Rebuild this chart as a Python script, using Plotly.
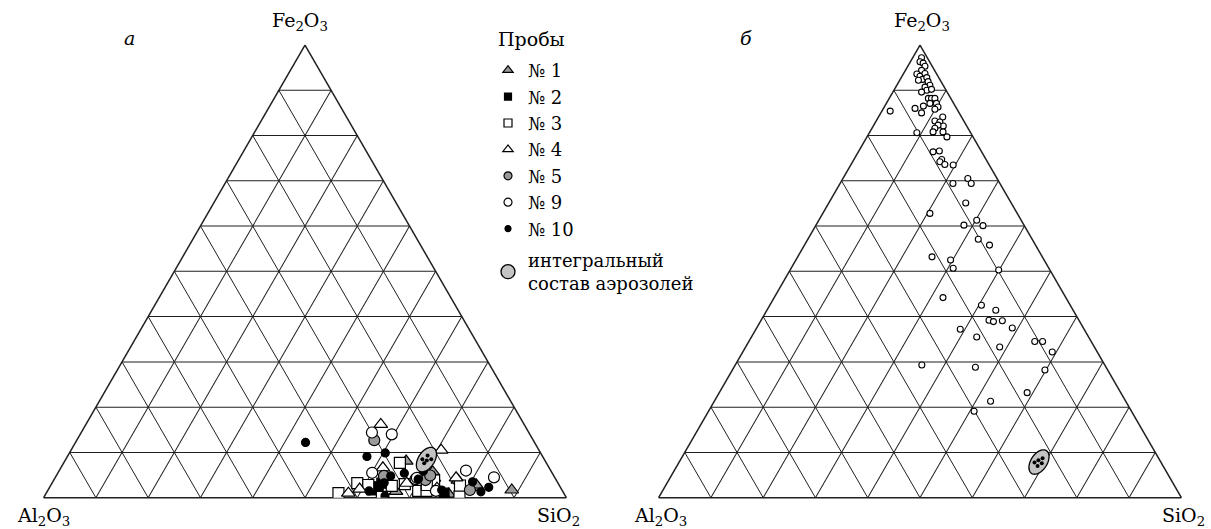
import numpy as np
import plotly.graph_objects as go

FONT = "DejaVu Serif"
W, H = 1211, 529

# ---- панель а: пробы, содержание (Fe2O3, Al2O3, SiO2), %
s1_fe = [8.1, 5.7, 3.9, 2.3, 1.7, 1.4, 0.8, 2.8, 4.3]
s1_al = [26.6, 22.7, 18.8, 15.9, 9.6, 31.9, 22.1, 15.8, 23.2]
s1_si = [65.3, 71.6, 77.3, 81.8, 88.7, 66.7, 77.1, 81.4, 72.5]

s2_fe = [2.4, 3.2, 1.0, 1.7]
s2_al = [34.8, 33.7, 22.9, 36.3]
s2_si = [62.8, 63.1, 76.1, 62.0]

s3_fe = [1.0, 3.2, 2.8, 2.6, 0.2, 7.7, 1.5, 1.5, 3.8, 2.8, 0.3, 2.7, 3.0]
s3_al = [43.1, 38.4, 36.5, 32.1, 35.2, 28.0, 27.6, 26.0, 23.4, 25.3, 20.3, 19.0, 29.4]
s3_si = [55.9, 58.4, 60.7, 65.3, 64.6, 64.3, 70.9, 72.5, 72.8, 71.9, 79.4, 78.3, 67.6]

s4_fe = [16.2, 10.5, 6.6, 1.0, 1.9, 3.2, 4.4, 2.1]
s4_al = [27.4, 18.7, 31.8, 41.2, 38.6, 29.0, 18.9, 23.7]
s4_si = [56.4, 70.8, 61.6, 57.8, 59.5, 68.0, 76.7, 74.2]

s5_fe = [12.7, 4.8, 3.9, 1.7, 4.9]
s5_al = [30.4, 32.5, 25.0, 17.6, 23.6]
s5_si = [56.9, 62.7, 71.1, 80.7, 71.5]

s9_fe = [14.4, 14.0, 5.5, 4.1, 6.0, 4.5, 1.5, 4.4]
s9_al = [30.0, 26.4, 34.4, 26.8, 16.2, 11.6, 24.2, 26.4]
s9_si = [55.6, 59.6, 60.1, 69.1, 77.8, 83.9, 74.3, 69.2]

s10_fe = [12.2, 9.1, 9.9, 4.8, 5.4, 5.9, 2.3, 3.5, 1.3, 1.7, 1.5, 0.4, 3.3, 4.1, 2.8]
s10_al = [43.8, 33.6, 29.7, 31.2, 28.3, 24.4, 13.7, 16.2, 15.7, 23.0, 37.0, 34.5, 33.2, 26.3, 34.4]
s10_si = [44.0, 57.3, 60.4, 64.0, 66.3, 69.7, 84.0, 80.3, 83.0, 75.3, 61.5, 65.1, 63.5, 69.6, 62.8]

# интегральный состав аэрозолей (панель а)
int_a_fe = [9.3, 8.5, 8.2, 8.5, 7.6]
int_a_al = [21.9, 23.3, 22.6, 21.6, 23.4]
int_a_si = [68.8, 68.2, 69.2, 69.9, 69.0]

# ---- панель б
b_fe = [97.2, 96.3, 96.0, 95.3, 94.4, 93.6, 93.1, 93.7, 92.4, 92.8, 92.2, 91.9,
        91.1, 90.7, 90.0, 90.2, 89.6, 88.2, 88.2, 88.2, 87.1, 87.1, 86.3, 85.8,
        85.4, 86.0, 86.5, 85.0, 80.6, 83.2, 84.1, 83.0, 82.1, 82.3, 81.6, 80.8,
        80.8, 79.7, 76.4, 76.6, 74.7, 74.2, 73.6, 73.5, 69.4, 70.5, 69.4,
        65.1, 62.8, 60.2, 61.3, 60.1, 57.1, 55.8, 53.2, 52.5, 50.7, 50.3, 44.2,
        42.5, 41.4, 39.2, 38.9, 39.1, 37.5, 37.2, 35.5, 33.3, 34.5, 34.5, 32.2,
        29.3, 28.8, 28.2, 23.2, 21.3, 19.1]
b_al = [1.1, 1.85, 1.4, 1.4, 2.5, 3.8, 3.45, 2.2, 3.3, 2.3, 4.2, 2.5,
        2.55, 3.7, 3.7, 2.7, 4.9, 4.3, 3.7, 3.05, 4.55, 3.3, 3.4, 4.25,
        13.0, 7.95, 6.1, 7.2, 10.3, 5.55, 3.6, 4.7, 4.5, 5.4, 6.35, 7.1,
        5.2, 5.0, 9.3, 8.0, 8.5, 9.1, 8.45, 6.9, 9.0, 5.6, 5.5,
        8.7, 16.7, 11.5, 8.5, 7.9, 10.3, 8.8, 21.1, 17.9, 18.3, 9.8, 23.5,
        17.0, 14.8, 17.2, 16.5, 14.7, 13.6, 23.7, 21.4, 18.1, 10.8, 9.3, 8.6,
        35.0, 25.0, 12.0, 17.9, 25.85, 30.1]
b_si = [1.7, 1.85, 2.6, 3.3, 3.1, 2.6, 3.45, 4.1, 4.3, 4.9, 3.6, 5.6,
        6.35, 5.6, 6.3, 7.1, 5.5, 7.5, 8.1, 8.75, 8.35, 9.6, 10.3, 9.95,
        1.6, 6.05, 7.4, 7.8, 9.1, 11.25, 12.3, 12.3, 13.4, 12.3, 12.05, 12.1,
        14.0, 15.3, 14.3, 15.4, 16.8, 16.7, 17.95, 19.6, 21.6, 23.9, 25.1,
        26.2, 20.5, 28.3, 30.2, 32.0, 32.6, 35.4, 25.7, 29.6, 31.0, 39.9, 32.3,
        40.5, 43.8, 43.6, 44.6, 46.2, 48.9, 39.1, 43.1, 48.6, 54.7, 56.2, 59.2,
        35.7, 46.2, 59.8, 58.9, 52.85, 50.8]

int_b_fe = [7.8, 8.3, 8.7, 7.6, 7.0]
int_b_al = [24.2, 23.2, 22.2, 22.9, 24.0]
int_b_si = [68.0, 68.5, 69.1, 69.5, 69.0]


def ellipse(fe, si, rx=2.6, ry=1.55, ang=57, n=80):
    """Контур наклонного эллипса вокруг (fe, si) в треугольнике со стороной 100."""
    x0 = si + fe / 2
    y0 = fe * np.sqrt(3) / 2
    t = np.linspace(0, 2 * np.pi, n)
    th = np.radians(ang)
    x = x0 + rx * np.cos(t) * np.cos(th) - ry * np.sin(t) * np.sin(th)
    y = y0 + rx * np.cos(t) * np.sin(th) + ry * np.sin(t) * np.cos(th)
    a = y * 2 / np.sqrt(3)
    c = x - a / 2
    return a, 100 - a - c, c


LINE = "#202020"
GRAY = "#9a9a9a"

# имя, данные, символ, заливка, размер на графике, размер в легенде
samples = [
    ("№ 1", s1_fe, s1_al, s1_si, "triangle-up", GRAY, 12, 9),
    ("№ 2", s2_fe, s2_al, s2_si, "square", "black", 10, 7),
    ("№ 3", s3_fe, s3_al, s3_si, "square", "white", 11, 8),
    ("№ 4", s4_fe, s4_al, s4_si, "triangle-up", "white", 12, 9),
    ("№ 5", s5_fe, s5_al, s5_si, "circle", GRAY, 11, 8),
    ("№ 9", s9_fe, s9_al, s9_si, "circle", "white", 11, 8),
    ("№ 10", s10_fe, s10_al, s10_si, "circle", "black", 8, 6),
]

fig = go.Figure()

for name, fe, al, si, sym, col, size, lsize in samples:
    fig.add_trace(go.Scatterternary(
        a=fe, b=al, c=si, mode="markers", name=name, showlegend=False,
        subplot="ternary",
        marker=dict(symbol=sym, color=col, size=size, line=dict(color="black", width=1.2)),
    ))
    # значок для легенды
    fig.add_trace(go.Scatterternary(
        a=[None], b=[None], c=[None], mode="markers", name=name, legendgroup="s",
        subplot="ternary",
        marker=dict(symbol=sym, color=col, size=lsize, line=dict(color="black", width=1.2)),
    ))


def add_integral(fe, al, si, subplot):
    cfe = float(np.mean(fe))
    csi = float(np.mean(si))
    ea, eb, ec = ellipse(cfe, csi)
    fig.add_trace(go.Scatterternary(
        a=ea, b=eb, c=ec, mode="lines", fill="toself", fillcolor="#c4c4c4",
        line=dict(color="black", width=1.3), subplot=subplot,
        showlegend=False, hoverinfo="skip",
    ))
    fig.add_trace(go.Scatterternary(
        a=fe, b=al, c=si, mode="markers", subplot=subplot, showlegend=False,
        marker=dict(symbol="circle", color="black", size=4),
    ))


add_integral(int_a_fe, int_a_al, int_a_si, "ternary")

fig.add_trace(go.Scatterternary(
    a=[None], b=[None], c=[None], mode="markers", subplot="ternary",
    name="интегральный<br>состав аэрозолей", legendgroup="i",
    marker=dict(symbol="circle", color="#c4c4c4", size=14, line=dict(color="black", width=1.3)),
))

fig.add_trace(go.Scatterternary(
    a=b_fe, b=b_al, c=b_si, mode="markers", subplot="ternary2", showlegend=False,
    marker=dict(symbol="circle", color="white", size=6, line=dict(color="black", width=1.1)),
))
add_integral(int_b_fe, int_b_al, int_b_si, "ternary2")


def axis():
    return dict(
        title=dict(text=""),
        showticklabels=False, ticks="", showgrid=True, dtick=10, tick0=0,
        gridcolor=LINE, gridwidth=1.4, linecolor=LINE, linewidth=1.5,
        layer="below traces",
    )


def tern(x0, x1):
    return dict(
        sum=100, bgcolor="white",
        domain=dict(x=[x0 / W, x1 / W], y=[31.3 / H, 484 / H]),
        aaxis=axis(), baxis=axis(), caxis=axis(),
    )


def label(text, x, y):
    return dict(text=text, x=x / W, y=1 - y / H, xref="paper", yref="paper",
                showarrow=False, xanchor="center", yanchor="middle",
                font=dict(family=FONT, size=19, color="black"))


annotations = [
    label("Fe<sub>2</sub>O<sub>3</sub>", 300, 21),
    label("Al<sub>2</sub>O<sub>3</sub>", 43, 516),
    label("SiO<sub>2</sub>", 558, 516),
    label("Fe<sub>2</sub>O<sub>3</sub>", 922, 21),
    label("Al<sub>2</sub>O<sub>3</sub>", 660, 516),
    label("SiO<sub>2</sub>", 1183, 516),
    label("<i>а</i>", 129, 38),
    label("<i>б</i>", 746, 38),
    label("Пробы", 531, 39),
]

fig.update_layout(
    width=W, height=H,
    margin=dict(l=0, r=0, t=0, b=0),
    paper_bgcolor="white", plot_bgcolor="white",
    font=dict(family=FONT, size=18, color="black"),
    ternary=tern(43.5, 566.5),
    ternary2=tern(657, 1183),
    legend=dict(
        x=488 / W, y=1 - 52 / H, xanchor="left", yanchor="top",
        font=dict(family=FONT, size=18), itemwidth=30,
        traceorder="grouped", tracegroupgap=5, bgcolor="rgba(0,0,0,0)",
    ),
    annotations=annotations,
)

fig.write_html("out.html", config={"displayModeBar": False},
               post_script="document.body.style.margin='0';")
